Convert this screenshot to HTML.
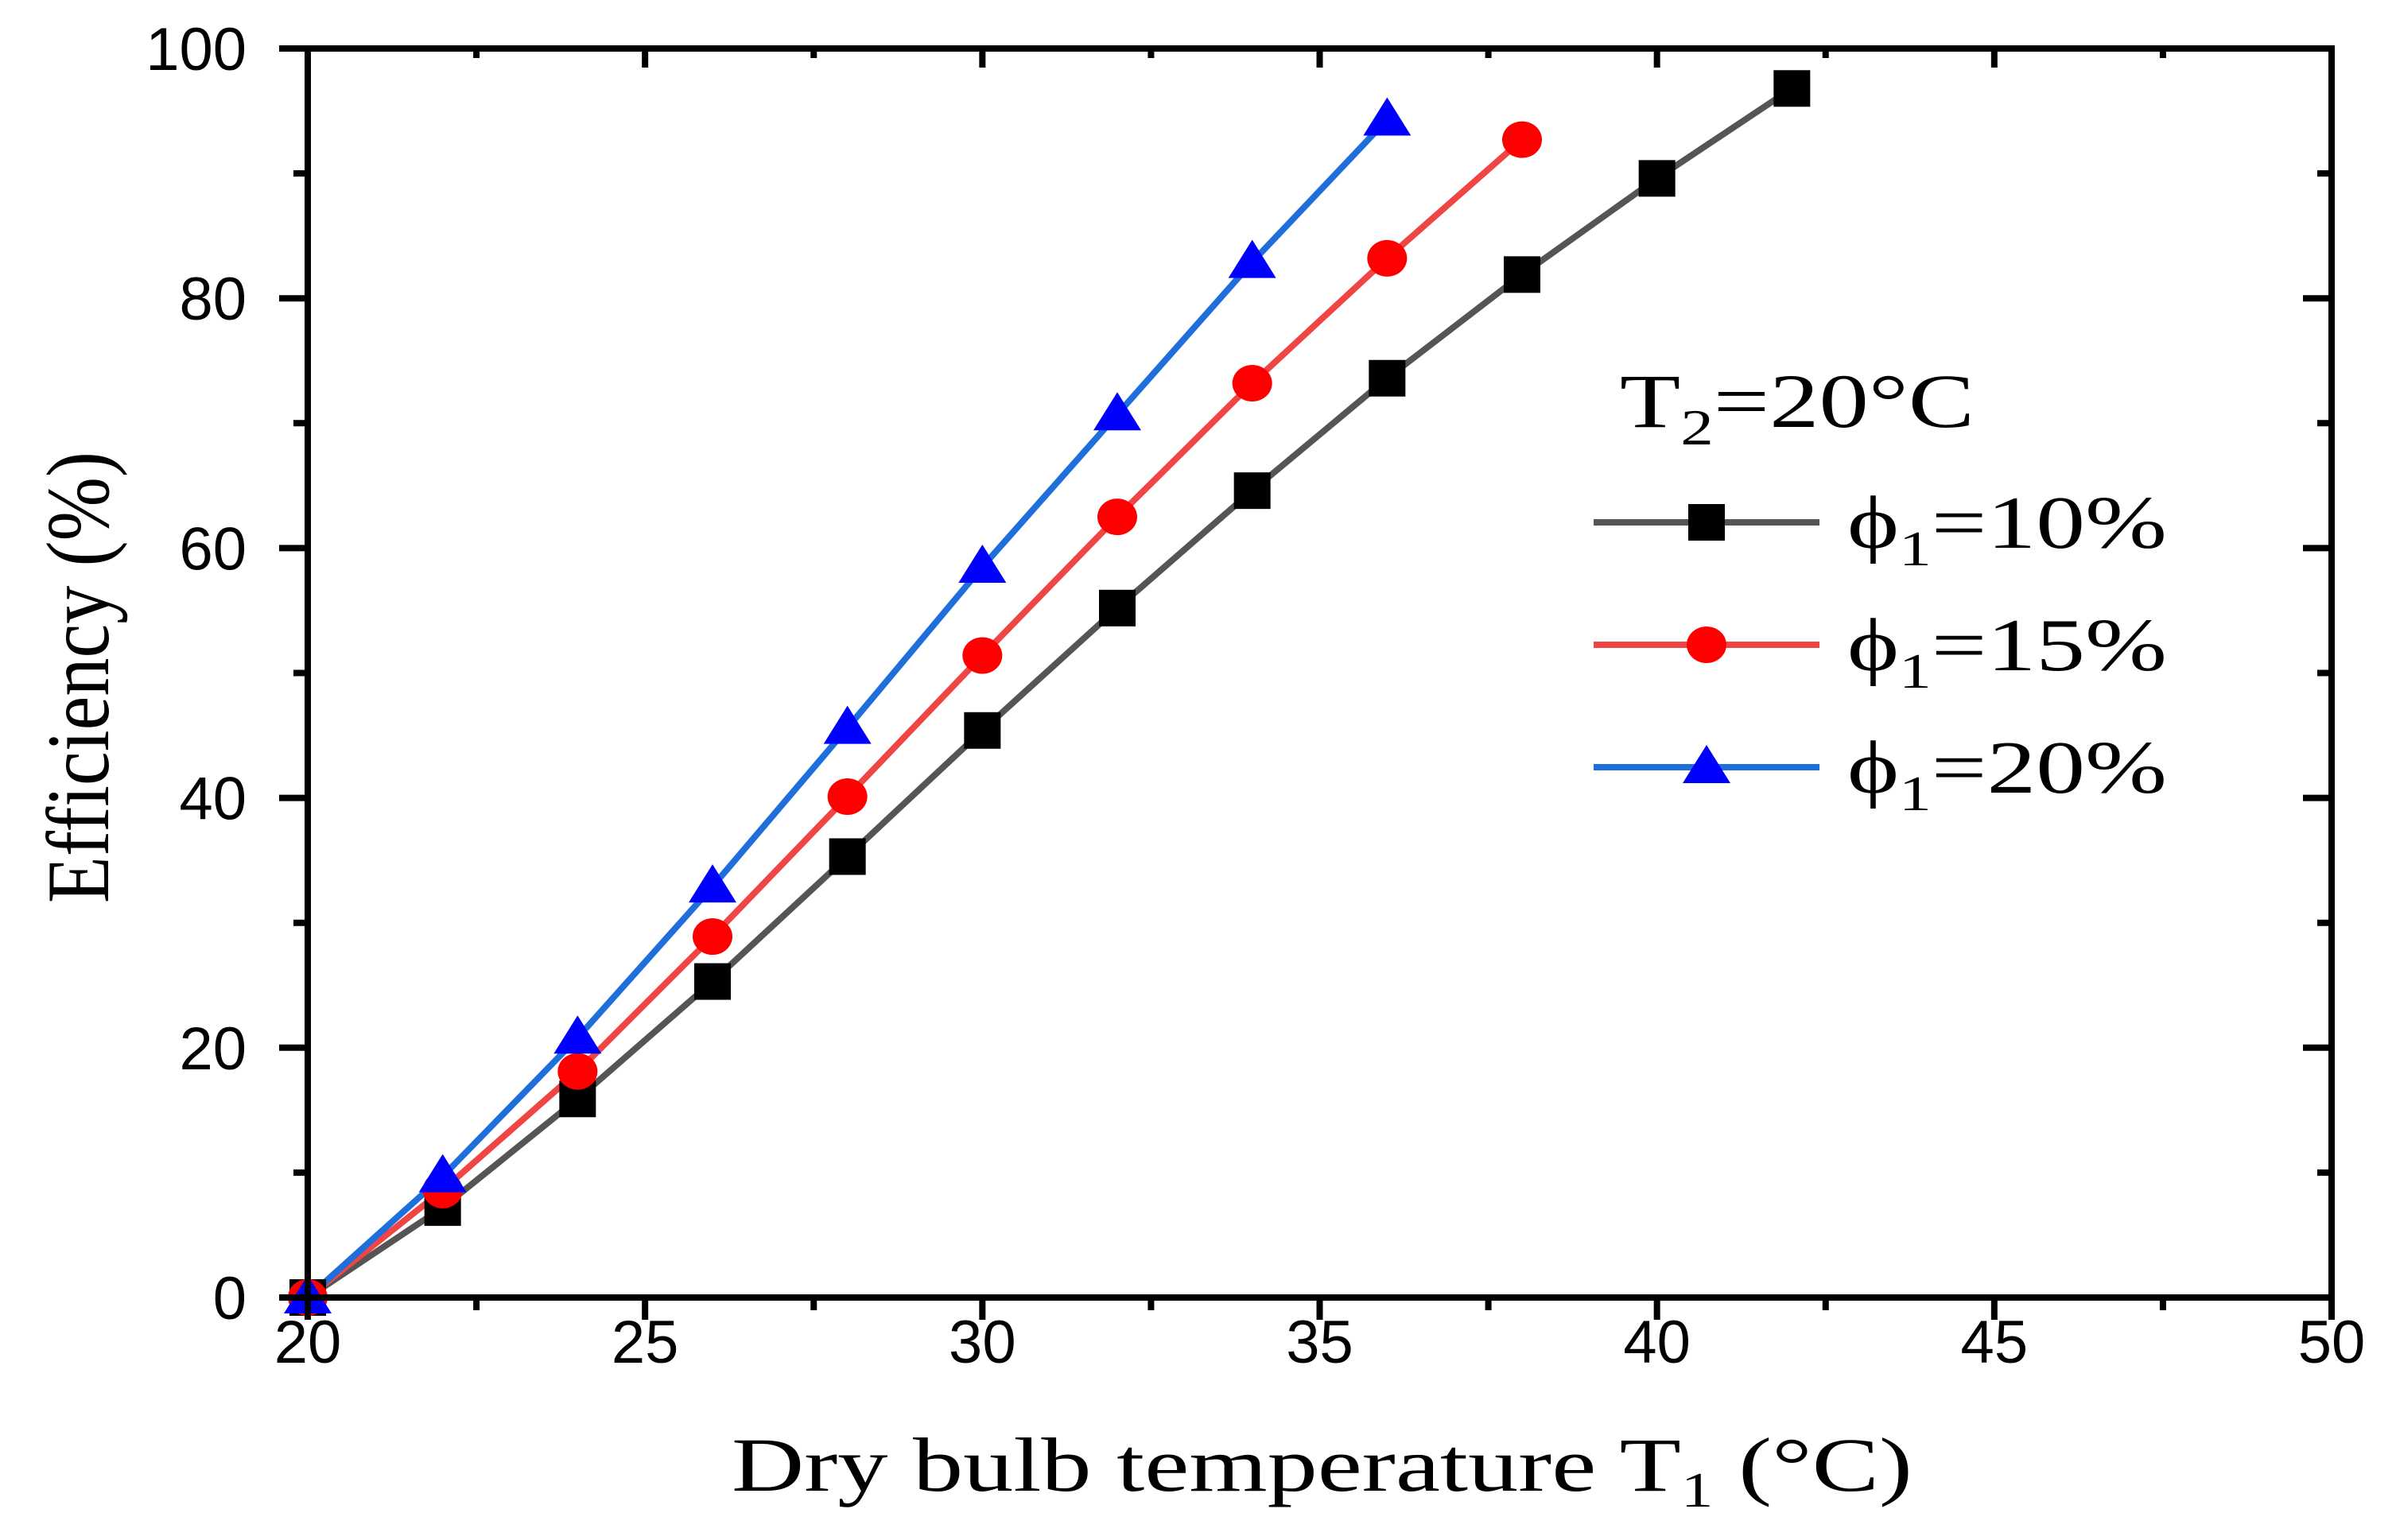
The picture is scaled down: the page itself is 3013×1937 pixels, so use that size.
<!DOCTYPE html>
<html><head><meta charset="utf-8"><style>html,body{margin:0;padding:0;background:#fff}svg{display:block}</style></head>
<body>
<svg id="chart" xmlns="http://www.w3.org/2000/svg" width="3013" height="1937" viewBox="0 0 3013 1937">
<rect width="3013" height="1937" fill="#fff"/>
<g id="marks"></g>
<g id="axes"></g>
<text x="920" y="1875" font-family="Liberation Serif, serif" font-size="96" textLength="1485" lengthAdjust="spacingAndGlyphs">Dry bulb temperature T<tspan font-size="62" dy="20">1</tspan><tspan dy="-20"> (°C)</tspan></text>
<text transform="translate(136,1136) rotate(-90)" font-family="Liberation Serif, serif" font-size="112" textLength="568" lengthAdjust="spacingAndGlyphs">Efficiency (%)</text>
<g font-family="Liberation Serif, serif">
<text x="2037" y="537" font-size="96" textLength="446" lengthAdjust="spacingAndGlyphs">T<tspan font-size="64" dy="22">2</tspan><tspan dy="-22">=20°C</tspan></text>
<g id="legend-entries"></g>
</g>
</svg>
<script>
const categories = [20,22,24,26,28,30,32,34,36,38,40,42];
const series10 = [0,7.2,15.9,25.3,35.3,45.4,55.2,64.6,73.6,81.9,89.6,96.8];
const series15 = [0,8.6,18.1,28.9,40.1,51.4,62.5,73.2,83.2,92.7];
const series20 = [0,9.7,20.8,32.9,45.6,58.5,70.7,82.9,94.3];
const xTicks = [20,25,30,35,40,45,50];
const yTicks = [0,20,40,60,80,100];
const legendLabels = ["10%","15%","20%"];

const NS="http://www.w3.org/2000/svg";
const L=387,R=2932,T=61,B=1632;
const xs=v=>L+(v-20)/30*(R-L);
const ys=v=>B-(v/100)*(B-T);
function mk(tag,attrs,parent){const e=document.createElementNS(NS,tag);for(const k in attrs)e.setAttribute(k,attrs[k]);parent.appendChild(e);return e;}
const marks=document.getElementById('marks'), axes=document.getElementById('axes');
const defs=[
 {d:series10,line:'#555555',fill:'#000000',shape:'square',name:'phi-10'},
 {d:series15,line:'#f04545',fill:'#ff0000',shape:'circle',name:'phi-15'},
 {d:series20,line:'#1e6fdc',fill:'#0000ff',shape:'triangle',name:'phi-20'}];
function marker(shape,cx,cy,fill,parent){
  let e;
  if(shape==='square'){e=mk('rect',{x:cx-23,y:cy-23,width:46,height:46,fill:fill},parent);}
  else if(shape==='circle'){e=mk('ellipse',{cx:cx,cy:cy,rx:25,ry:23,fill:fill},parent);}
  else {e=mk('polygon',{points:`${cx},${cy-28} ${cx-30},${cy+20} ${cx+30},${cy+20}`,fill:fill},parent);}
  return e;
}
defs.forEach(s=>{
  const pts=s.d.map((v,i)=>xs(categories[i])+','+ys(v)).join(' ');
  const pl=mk('polyline',{points:pts,fill:'none',stroke:s.line,'stroke-width':8,'stroke-linejoin':'round'},marks);
  
  
});
defs.forEach(s=>{
  s.d.forEach((v,i)=>{
    const m=marker(s.shape,xs(categories[i]),ys(v),s.fill,marks);
    
    
  });
});
const fr=mk('rect',{x:L,y:T,width:R-L,height:B-T,fill:'none',stroke:'#000','stroke-width':8},axes);


for(let v=20;v<=50;v+=2.5){
  const maj=(v%5===0), x=xs(v);
  mk('line',{x1:x,y1:B,x2:x,y2:B+(maj?28:16),stroke:'#000','stroke-width':8},axes);
  mk('line',{x1:x,y1:T,x2:x,y2:T+(maj?24:12),stroke:'#000','stroke-width':8},axes);
}
xTicks.forEach(v=>{
  const t=mk('text',{x:xs(v),y:1714,'text-anchor':'middle','font-family':'Liberation Sans, sans-serif','font-size':76},axes);
  t.textContent=v;
  
  
});
for(let v=0;v<=100;v+=10){
  const maj=(v%20===0), y=ys(v);
  mk('line',{x1:L,y1:y,x2:L-(maj?36:18),y2:y,stroke:'#000','stroke-width':8},axes);
  mk('line',{x1:R,y1:y,x2:R-(maj?36:18),y2:y,stroke:'#000','stroke-width':8},axes);
}
yTicks.forEach(v=>{
  const t=mk('text',{x:310,y:ys(v)+27,'text-anchor':'end','font-family':'Liberation Sans, sans-serif','font-size':76},axes);
  t.textContent=v;
  
  
});
const lg=document.getElementById('legend-entries');
const ly=[657,811,965];
defs.forEach((s,i)=>{
  const g=mk('g',{},lg);
  
  
  mk('line',{x1:2004,y1:ly[i],x2:2288,y2:ly[i],stroke:s.line,'stroke-width':8},g);
  marker(s.shape,2146,ly[i],s.fill,g);
  const t=mk('text',{x:2323,y:ly[i]+32,'font-size':94,'font-family':'Liberation Serif, DejaVu Serif, serif',textLength:402,lengthAdjust:'spacingAndGlyphs'},g);
  t.innerHTML='ϕ<tspan font-size="62" dy="22">1</tspan><tspan dy="-22">='+legendLabels[i]+'</tspan>';
});
</script>
</body></html>
